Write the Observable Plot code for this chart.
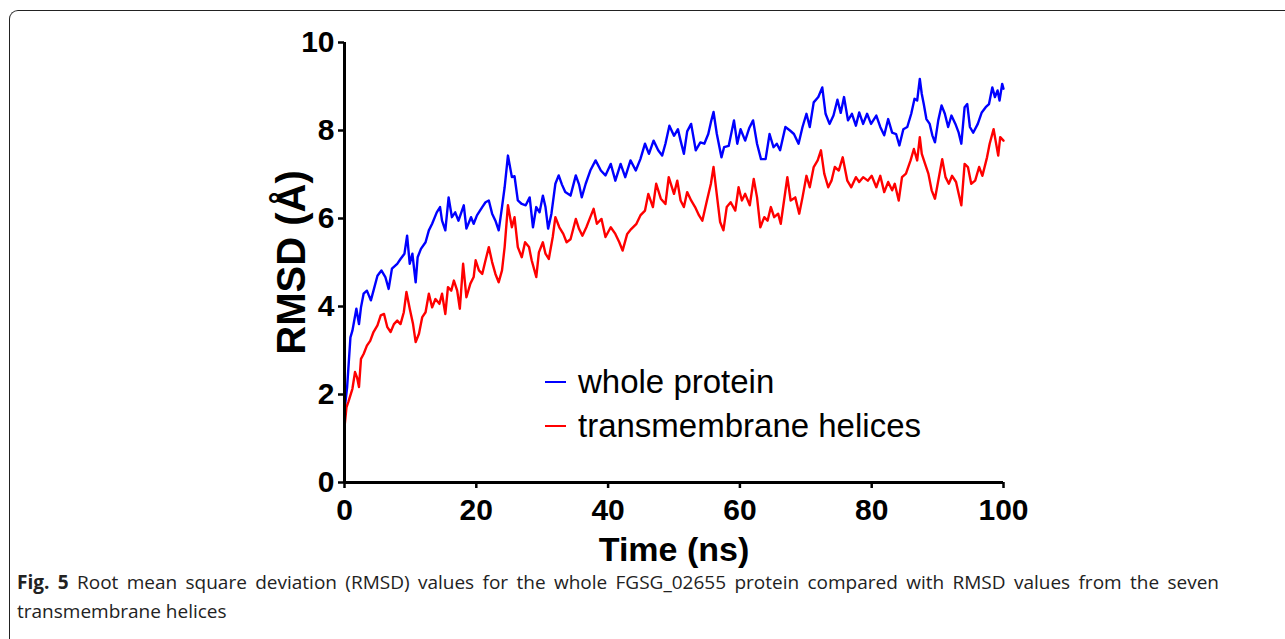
<!DOCTYPE html>
<html>
<head>
<meta charset="utf-8">
<script src="https://cdn.jsdelivr.net/npm/d3@7"></script>
<script src="https://cdn.jsdelivr.net/npm/@observablehq/plot@0.6"></script>
<style>
  html, body { margin: 0; padding: 0; background: #fff; }
  body { width: 1285px; height: 639px; position: relative; overflow: hidden; }
  #frame { position: absolute; left: 9px; top: 10px; width: 1400px; height: 800px;
           border-left: 1.5px solid #222; border-top: 1.5px solid #222; border-top-left-radius: 9px; }
  #chart { position: absolute; left: 0; top: 0; }
  .leg-line { position: absolute; height: 2px; width: 21px; }
  .leg-text { position: absolute; font-family: "Liberation Sans", Arial, sans-serif; font-size: 33px;
              line-height: 33px; color: #000; white-space: nowrap; }
  .cap { position: absolute; left: 17px; width: 1202px; font-family: "Open Sans", sans-serif;
         font-size: 19px; line-height: 29px; color: #222; white-space: nowrap; }
  #cap1 { text-align: justify; text-align-last: justify; white-space: normal; }
</style>
</head>
<body>
<div id="frame"></div>
<div id="chart"></div>
<div id="legend"></div>
<div class="cap" id="cap1"></div>
<div class="cap" id="cap2"></div>
<script>
// ---- data ----
const timeWhole = [0,0.4,0.9,1.2,1.8,2.2,2.5,2.9,3.4,4.0,4.4,5.0,5.6,6.2,6.7,7.2,8.0,8.5,9.1,9.5,9.9,10.3,10.8,11.1,11.6,12.3,12.8,13.3,14.0,14.5,14.8,15.3,15.8,16.3,16.8,17.3,18.1,18.5,19.2,19.6,20.1,20.9,21.4,21.9,22.4,22.9,23.4,23.9,24.3,24.8,25.4,25.8,26.3,26.9,27.5,28.1,28.6,29.1,29.6,30.1,30.5,30.9,31.4,32.0,32.5,33.0,33.5,34.3,35.1,35.6,36.0,36.6,37.3,38.1,38.9,39.6,40.4,41.1,41.9,42.6,43.4,44.2,44.9,45.6,46.2,46.9,47.6,48.2,48.7,49.3,50.0,50.6,51.0,51.5,52.0,52.6,53.3,54.0,54.6,55.2,55.6,56.0,56.5,57.2,57.6,58.3,59.1,59.6,60.1,60.8,61.4,62.0,62.6,63.2,63.9,64.5,65.1,65.6,66.1,66.9,67.6,68.2,68.9,69.5,70.1,70.6,71.2,71.9,72.5,73.0,73.6,74.2,74.8,75.3,75.8,76.4,77.0,77.6,78.1,78.7,79.3,79.9,80.7,81.3,81.9,82.5,83.1,83.7,84.2,84.8,85.4,86.0,86.5,86.9,87.3,87.6,87.9,88.3,88.8,89.2,89.6,90.1,90.6,91.1,91.6,92.1,92.7,93.2,93.6,94.1,94.5,94.9,95.4,96.1,96.7,97.3,97.8,98.3,98.7,99.1,99.4,99.8,100];
const rmsdWhole = [1.64,2.17,3.30,3.45,3.95,3.60,3.98,4.29,4.36,4.14,4.36,4.70,4.82,4.67,4.40,4.86,4.97,5.08,5.20,5.61,4.97,5.20,4.55,5.12,5.31,5.46,5.73,5.88,6.14,6.26,5.95,5.73,6.48,6.03,6.14,5.95,6.30,5.77,6.03,5.88,6.07,6.26,6.37,6.41,6.11,5.95,5.73,6.26,6.71,7.43,6.94,6.96,6.41,6.33,6.30,6.48,5.80,6.26,6.14,6.52,6.26,5.77,6.11,6.79,6.98,6.77,6.60,6.52,6.98,6.77,6.48,6.79,7.09,7.32,7.09,6.98,7.24,6.86,7.24,6.94,7.32,7.09,7.35,7.70,7.47,7.77,7.55,7.43,7.70,8.11,7.88,8.03,7.77,7.47,7.98,8.15,7.55,7.73,7.70,7.92,8.19,8.42,7.92,7.39,7.62,7.65,8.23,7.70,8.03,7.77,8.05,8.23,7.70,7.35,7.35,7.92,7.62,7.70,7.55,8.08,8.00,7.92,7.70,8.08,8.38,8.08,8.64,8.76,8.98,8.38,8.15,8.34,8.70,8.40,8.76,8.23,8.38,8.11,8.41,8.15,8.38,8.15,8.34,8.08,7.89,8.26,7.95,7.92,7.66,8.03,8.08,8.38,8.72,8.68,9.17,8.83,8.60,8.26,8.15,7.89,7.73,8.23,8.57,8.38,8.08,8.34,8.15,7.95,7.70,8.53,8.60,8.08,7.95,8.15,8.41,8.53,8.60,8.98,8.76,8.91,8.68,9.06,8.95];

const timeHelix = [0,0.3,0.6,1.2,1.6,1.9,2.2,2.5,2.9,3.4,3.9,4.4,5.0,5.5,6.0,6.5,7.0,7.5,8.0,8.5,9.0,9.4,9.9,10.4,10.8,11.3,11.8,12.3,12.8,13.3,13.8,14.4,14.8,15.3,15.7,16.2,16.6,17.1,17.5,18.0,18.5,19.1,19.6,19.9,20.4,20.9,21.4,21.9,22.4,22.9,23.4,23.9,24.3,24.8,25.4,25.8,26.3,26.9,27.4,28.0,28.4,29.1,29.5,30.1,30.5,31.0,31.6,32.0,32.6,33.2,33.7,34.3,35.1,35.6,36.1,36.7,37.3,37.8,38.3,39.0,39.6,40.4,41.1,41.7,42.2,42.9,43.5,44.3,44.9,45.6,46.1,46.8,47.3,48.0,48.7,49.2,50.0,50.5,51.0,51.5,52.0,52.6,53.2,53.8,54.3,55.0,55.6,56.0,56.6,57.0,57.5,58.0,58.6,59.3,59.8,60.3,60.8,61.5,62.1,62.6,63.1,63.7,64.2,64.7,65.2,65.8,66.2,66.7,67.2,67.7,68.4,69.0,69.5,70.1,70.6,71.2,71.8,72.3,72.8,73.4,73.9,74.4,75.0,75.6,76.3,76.9,77.6,78.1,78.7,79.4,80.0,80.7,81.3,81.9,82.5,83.1,83.5,84.1,84.6,85.2,85.9,86.4,86.9,87.3,87.6,88.1,88.6,89.1,89.6,90.1,90.7,91.2,91.7,92.2,92.8,93.2,93.6,94.1,94.6,95.1,95.7,96.3,96.8,97.5,97.9,98.5,98.8,99.2,99.5,100];
const rmsdHelix = [1.26,1.71,1.84,2.13,2.51,2.39,2.17,2.81,2.92,3.11,3.22,3.42,3.57,3.80,3.83,3.53,3.42,3.60,3.68,3.60,3.87,4.33,3.95,3.60,3.19,3.38,3.76,3.87,4.29,3.98,4.17,4.06,4.29,3.83,4.44,4.36,4.59,4.36,3.95,4.97,4.21,4.52,4.67,5.05,4.82,4.74,5.05,5.35,5.01,4.74,4.55,4.82,5.35,6.30,5.80,6.03,5.35,5.12,5.46,5.35,5.05,4.67,5.23,5.46,5.20,5.08,5.58,6.03,5.80,5.65,5.46,5.53,5.99,5.76,5.61,5.80,6.03,6.22,5.88,5.99,5.58,5.80,5.65,5.46,5.27,5.65,5.76,5.88,6.07,6.18,6.56,6.26,6.79,6.45,6.33,6.94,6.56,6.86,6.41,6.26,6.60,6.41,6.26,6.07,5.95,6.41,6.79,7.17,6.41,5.92,5.73,6.26,6.37,6.18,6.71,6.41,6.56,6.30,6.90,6.48,5.80,6.03,5.95,6.26,6.03,6.11,5.88,6.41,6.94,6.41,6.48,6.11,6.48,6.97,6.71,7.17,7.32,7.55,7.02,6.71,6.86,7.17,7.09,7.39,6.86,6.71,6.94,6.83,6.94,6.86,6.97,6.71,6.97,6.60,6.83,6.64,6.79,6.41,6.94,7.02,7.32,7.58,7.32,7.85,7.47,7.24,7.02,6.64,6.45,6.86,7.35,6.94,6.79,6.97,6.83,6.56,6.30,7.24,7.17,6.79,6.86,7.17,6.97,7.39,7.70,8.03,7.77,7.43,7.85,7.77];

const seriesNames = ["whole protein", "transmembrane helices"];
const seriesColors = ["#0000ff", "#ff0000"];
const xTicks = [0, 20, 40, 60, 80, 100];
const yTicks = [0, 2, 4, 6, 8, 10];
const xTitle = "Time (ns)";
const yTitle = "RMSD (Å)";
const captionBold = "Fig. 5";
const captionLine1 = " Root mean square deviation (RMSD) values for the whole FGSG_02655 protein compared with RMSD values from the seven";
const captionLine2 = "transmembrane helices";

// ---- build tables ----
const wholeData = timeWhole.map((t, i) => ({t, v: rmsdWhole[i]}));
const helixData = timeHelix.map((t, i) => ({t, v: rmsdHelix[i]}));

const fontAxis = "'Liberation Sans', Arial, Helvetica, sans-serif";

const chart = Plot.plot({
  width: 1285,
  height: 575,
  marginLeft: 344,
  marginRight: 282,
  marginTop: 42,
  marginBottom: 93,
  style: {background: "transparent", fontFamily: fontAxis, color: "#000", overflow: "visible"},
  x: {domain: [0, 100]},
  y: {domain: [0, 10]},
  marks: [
    Plot.line(wholeData, {x: "t", y: "v", stroke: seriesColors[0], strokeWidth: 2.4}),
    Plot.line(helixData, {x: "t", y: "v", stroke: seriesColors[1], strokeWidth: 2.4}),
    Plot.axisX({ticks: xTicks, tickSize: 6, tickPadding: 10, fontSize: 30, fontWeight: "bold", strokeWidth: 2.5, label: null, tickFormat: d => String(d)}),
    Plot.axisY({ticks: yTicks, tickSize: 6, tickPadding: 4, fontSize: 30, fontWeight: "bold", strokeWidth: 2.5, label: null, tickFormat: d => String(d)}),
    Plot.ruleX([0], {strokeWidth: 3}),
    Plot.ruleY([0], {strokeWidth: 3}),
    Plot.text([xTitle], {text: d => d, frameAnchor: "bottom", dy: 68, fontSize: 34, fontWeight: "bold", lineAnchor: "middle", textAnchor: "middle"}),
    Plot.text([yTitle], {text: d => d, frameAnchor: "left", dx: -52, rotate: -90, fontSize: 40, fontWeight: "bold", lineAnchor: "middle", textAnchor: "middle"})
  ]
});
document.getElementById("chart").appendChild(chart);

// ---- legend ----
const legend = document.getElementById("legend");
const legTops = [365, 409];
const lineTops = [381, 425];
seriesNames.forEach((name, i) => {
  const ln = document.createElement("div");
  ln.className = "leg-line";
  ln.style.left = "545px";
  ln.style.top = lineTops[i] + "px";
  ln.style.background = seriesColors[i];
  legend.appendChild(ln);
  const tx = document.createElement("div");
  tx.className = "leg-text";
  tx.style.left = "578px";
  tx.style.top = legTops[i] + "px";
  tx.textContent = name;
  legend.appendChild(tx);
});

// ---- caption ----
const cap1 = document.getElementById("cap1");
cap1.style.top = "568px";
const b = document.createElement("b");
b.textContent = captionBold;
cap1.appendChild(b);
cap1.appendChild(document.createTextNode(captionLine1));
const cap2 = document.getElementById("cap2");
cap2.style.top = "597px";
cap2.textContent = captionLine2;
</script>
</body>
</html>
